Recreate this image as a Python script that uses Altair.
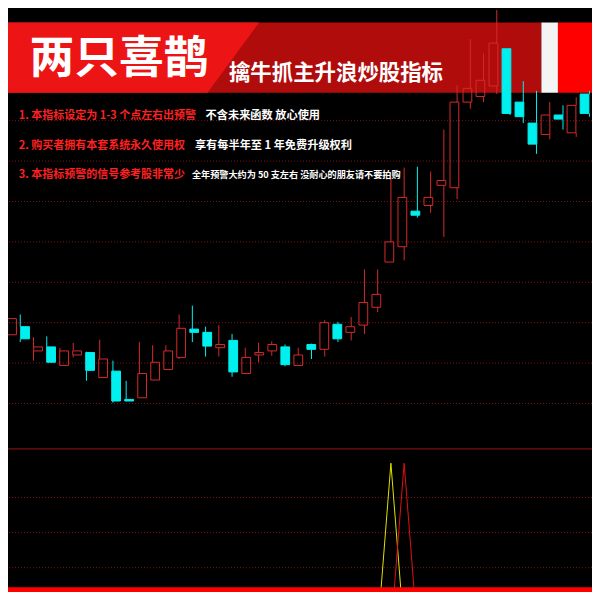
import altair as alt
import pandas as pd

# ---------------- data ----------------
IDX = list(range(45))
OPEN = [10.85, 10.95, 10.65, 10.70, 10.47, 10.60, 10.63, 10.32, 10.40, 10.05,
        10.07, 10.29, 10.42, 10.57, 10.92, 10.88, 10.69, 10.78, 10.37, 10.60,
        10.65, 10.70, 10.47, 10.73, 10.67, 10.98, 10.88, 10.97, 11.19, 11.75,
        11.94, 12.38, 12.45, 12.70, 12.67, 13.73, 13.80, 13.93, 14.39, 13.73,
        13.47, 13.33, 13.57, 13.35, 13.83]
CLOSE = [11.05, 10.80, 10.70, 10.51, 10.65, 10.65, 10.41, 10.55, 10.03, 10.03,
         10.37, 10.51, 10.65, 10.93, 10.88, 10.71, 10.73, 10.39, 10.57, 10.63,
         10.73, 10.48, 10.60, 10.67, 11.00, 10.80, 10.95, 11.25, 11.35, 12.00,
         12.55, 12.33, 12.55, 12.76, 13.73, 13.90, 14.00, 14.46, 13.59, 13.55,
         13.21, 13.57, 13.52, 13.69, 13.59]
HIGH = [11.06, 11.10, 10.82, 10.83, 10.69, 10.75, 10.64, 10.79, 10.53, 10.28,
        10.76, 10.72, 10.72, 11.10, 11.21, 10.95, 10.97, 10.86, 10.69, 10.75,
        10.77, 10.73, 10.69, 10.74, 11.03, 11.01, 11.07, 11.66, 11.66, 12.80,
        12.92, 12.93, 12.87, 13.39, 13.94, 14.51, 14.33, 14.87, 14.40, 13.99,
        13.87, 13.73, 13.69, 13.79, 13.87]
LOW = [10.83, 10.76, 10.53, 10.51, 10.47, 10.57, 10.28, 10.32, 10.01, 10.03,
       10.07, 10.29, 10.42, 10.55, 10.76, 10.58, 10.58, 10.33, 10.37, 10.51,
       10.59, 10.46, 10.47, 10.55, 10.58, 10.76, 10.78, 10.86, 11.13, 11.75,
       11.77, 12.30, 12.36, 12.06, 12.53, 13.65, 13.73, 13.83, 13.57, 13.47,
       13.09, 13.27, 13.39, 13.30, 13.55]
SIGNAL_A = [0, 0, 0, 0, 0, 0, 0, 0, 0, 0, 0, 0, 0, 0, 0, 0, 0, 0, 0, 0,
            0, 0, 0, 0, 0, 0, 0, 0, 0, 1, 0, 0, 0, 0, 0, 0, 0, 0, 0, 0,
            0, 0, 0, 0, 0]
SIGNAL_B = [0, 0, 0, 0, 0, 0, 0, 0, 0, 0, 0, 0, 0, 0, 0, 0, 0, 0, 0, 0,
            0, 0, 0, 0, 0, 0, 0, 0, 0, 0, 1, 0, 0, 0, 0, 0, 0, 0, 0, 0,
            0, 0, 0, 0, 0]
PRICE_GRID = [10.0, 10.5, 11.0, 11.5, 12.0, 12.5, 13.0, 13.5, 14.0, 14.5]

TITLE = "两只喜鹊"
SUBTITLE = "擒牛抓主升浪炒股指标"
LINES_RED = ["1. 本指标设定为 1-3 个点左右出预警",
             "2. 购买者拥有本套系统永久使用权",
             "3. 本指标预警的信号参考股非常少"]
LINES_WHITE = ["不含未来函数  放心使用",
               "享有每半年至 1 年免费升级权利",
               "全年预警大约为 50 支左右  没耐心的朋友请不要拍购"]

# ---------------- layout / style ----------------
W = H = 584
S = W / 600.0
FONT = "Noto Sans CJK SC"
RED = "#d42a2a"
CYAN = "#00f0f0"
BG = "#000000"

X_IDX = alt.Scale(domain=[1 / 13.6, 601 / 13.6], nice=False, zero=False)
Y_PRICE = alt.Scale(domain=[7.666, 14.895], nice=False, zero=False)
Y_IND = alt.Scale(domain=[0.2353, 3.7035], nice=False, zero=False)
X_PIX = alt.Scale(domain=[0, 600], nice=False, zero=False)
Y_PIX = alt.Scale(domain=[0, 600], nice=False, zero=False, reverse=True)

df = pd.DataFrame({"i": IDX, "open": OPEN, "close": CLOSE, "high": HIGH, "low": LOW})
df["dir"] = ["up" if c >= o else "down" for o, c in zip(OPEN, CLOSE)]
df["btop"] = df[["open", "close"]].max(axis=1)
df["bbot"] = df[["open", "close"]].min(axis=1)

layers = []

# price grid (dotted)
layers.append(
    alt.Chart(pd.DataFrame({"p": PRICE_GRID})).mark_rule(
        color="#7a1414", strokeDash=[1, 2], strokeWidth=1
    ).encode(y=alt.Y("p:Q", scale=Y_PRICE, axis=None))
)
# lower panel grid (dotted) + separator
layers.append(
    alt.Chart(pd.DataFrame({"y": [503, 539, 575]})).mark_rule(
        color="#7a1414", strokeDash=[1, 2], strokeWidth=1
    ).encode(y=alt.Y("y:Q", scale=Y_PIX, axis=None))
)
layers.append(
    alt.Chart(pd.DataFrame({"y": [453]})).mark_rule(color="#9a1414", strokeWidth=1)
    .encode(y=alt.Y("y:Q", scale=Y_PIX, axis=None))
)

# banner
layers.append(
    alt.Chart(pd.DataFrame({"x": [0], "x2": [548], "y": [15], "y2": [87]}))
    .mark_rect(color="#b00c0c")
    .encode(x=alt.X("x:Q", scale=X_PIX, axis=None), x2="x2:Q",
            y=alt.Y("y:Q", scale=Y_PIX, axis=None), y2="y2:Q")
)
layers.append(
    alt.Chart(pd.DataFrame({"x": [0, 205, 258], "y": [15, 15, 15], "y2": [87, 87, 15]}))
    .mark_area(color="#ec1414", interpolate="linear")
    .encode(x=alt.X("x:Q", scale=X_PIX, axis=None),
            y=alt.Y("y:Q", scale=Y_PIX, axis=None), y2="y2:Q")
)
layers.append(
    alt.Chart(pd.DataFrame({"x": [548, 565], "x2": [565, 600], "y": [15, 15], "y2": [87, 87],
                            "c": ["w", "r"]}))
    .mark_rect()
    .encode(x=alt.X("x:Q", scale=X_PIX, axis=None), x2="x2:Q",
            y=alt.Y("y:Q", scale=Y_PIX, axis=None), y2="y2:Q",
            color=alt.Color("c:N", scale=alt.Scale(domain=["w", "r"], range=["#f4f4f4", "#ff0000"]),
                            legend=None))
)

# candles: upper and lower wicks, then bodies (hollow red, solid cyan)
wick_color = alt.Color("dir:N", scale=alt.Scale(domain=["up", "down"], range=[RED, CYAN]), legend=None)
layers.append(
    alt.Chart(df).mark_rule(strokeWidth=1, clip=True).encode(
        x=alt.X("i:Q", scale=X_IDX, axis=None),
        y=alt.Y("btop:Q", scale=Y_PRICE, axis=None), y2="high:Q",
        color=wick_color,
    )
)
layers.append(
    alt.Chart(df).mark_rule(strokeWidth=1, clip=True).encode(
        x=alt.X("i:Q", scale=X_IDX, axis=None),
        y=alt.Y("low:Q", scale=Y_PRICE, axis=None), y2="bbot:Q",
        color=wick_color,
    )
)
layers.append(
    alt.Chart(df).mark_bar(size=9 * S, strokeWidth=1, clip=True).encode(
        x=alt.X("i:Q", scale=X_IDX, axis=None),
        y=alt.Y("open:Q", scale=Y_PRICE, axis=None), y2="close:Q",
        fill=alt.Fill("dir:N", scale=alt.Scale(domain=["up", "down"], range=["transparent", CYAN]),
                      legend=None),
        stroke=alt.Stroke("dir:N", scale=alt.Scale(domain=["up", "down"], range=[RED, CYAN]), legend=None),
    )
)

# indicator
ind = pd.DataFrame({"i": IDX, "a": SIGNAL_A, "b": SIGNAL_B})
layers.append(
    alt.Chart(ind).mark_line(color="#e0e000", strokeWidth=1, clip=True)
    .encode(x=alt.X("i:Q", scale=X_IDX, axis=None), y=alt.Y("a:Q", scale=Y_IND, axis=None))
)
layers.append(
    alt.Chart(ind).mark_line(color="#dd1111", strokeWidth=1, clip=True)
    .encode(x=alt.X("i:Q", scale=X_IDX, axis=None), y=alt.Y("b:Q", scale=Y_IND, axis=None))
)
# bottom bar
layers.append(
    alt.Chart(pd.DataFrame({"y": [595], "y2": [600]})).mark_rect(color="#ff0000")
    .encode(x=alt.value(0), x2=alt.value(W),
            y=alt.Y("y:Q", scale=Y_PIX, axis=None), y2="y2:Q")
)


def txt(s, x, y, size, color):
    return alt.Chart(pd.DataFrame({"t": [s]})).mark_text(
        align="left", baseline="middle", font=FONT, fontWeight="bold",
        fontSize=size * S, color=color
    ).encode(text="t:N", x=alt.value(x * S), y=alt.value(y * S))


layers.append(txt(TITLE, 22, 53, 46, "#ffffff"))
layers.append(txt(SUBTITLE, 227, 67.5, 22, "#ffffff"))
rows_y = [111, 142, 172]
white_x = [203, 192, 189]
white_fs = [11.5, 11.5, 9.4]
for k in range(3):
    layers.append(txt(LINES_RED[k], 11, rows_y[k], 11.3, "#ff2020"))
    layers.append(txt(LINES_WHITE[k], white_x[k], rows_y[k], white_fs[k], "#ffffff"))

chart = alt.layer(*layers).resolve_scale(
    x="independent", y="independent", color="independent",
    fill="independent", stroke="independent"
).properties(
    width=W, height=H, background=BG, padding=0,
    autosize=alt.AutoSizeParams(type="none")
).configure_view(stroke=None)

chart.save("out.html", embed_options={"renderer": "svg", "actions": False})
